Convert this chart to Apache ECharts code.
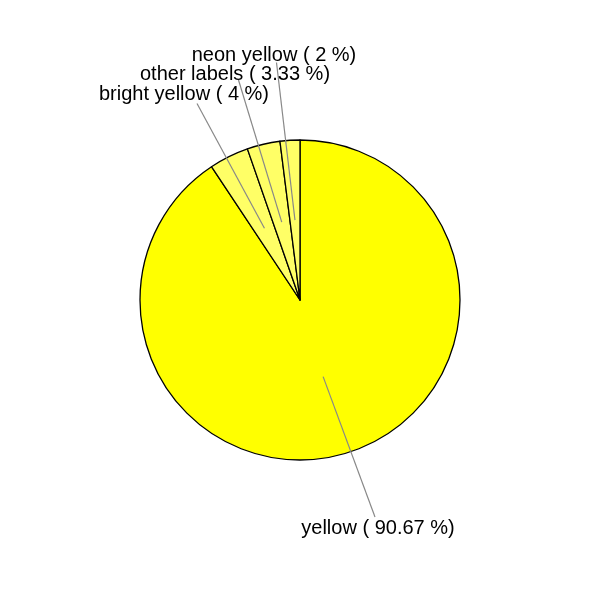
<!DOCTYPE html>
<html>
<head>
<meta charset="utf-8">
<script src="https://cdn.jsdelivr.net/npm/echarts@6/dist/echarts.min.js"></script>
<style>html,body{margin:0;padding:0;background:#fff;}#c{width:600px;height:600px;}</style>
</head>
<body>
<div id="c"></div>
<script>
// Data
var categories = ['yellow', 'bright yellow', 'other labels', 'neon yellow'];
var percents = [90.67, 4, 3.33, 2];
var sliceColors = ['#FFFF00', '#FFFF66', '#FFFF66', '#FFFF66'];

// Layout: label text centres and guide-line end points (pixels)
var labelPos = [[378, 528], [184, 94.5], [235, 74.5], [274, 55]];
var lineEnd = [[375, 517], [197, 103.5], [238.5, 80], [276.5, 62.5]];

var chart = echarts.init(document.getElementById('c'));
var pieData = categories.map(function (n, i) {
  return { name: n, value: percents[i], itemStyle: { color: sliceColors[i] } };
});
var labelData = categories.map(function (n, i) {
  return { name: n, value: percents[i] };
});

chart.setOption({
  animation: false,
  series: [
    {
      type: 'pie',
      z: 1,
      center: ['50%', '50%'],
      radius: 160,
      startAngle: 90,
      clockwise: true,
      silent: true,
      itemStyle: { borderColor: '#000', borderWidth: 1.3 },
      label: { show: false },
      labelLine: { show: false },
      data: pieData
    },
    {
      type: 'pie',
      z: 10,
      center: ['50%', '50%'],
      radius: 80,
      startAngle: 90,
      clockwise: true,
      silent: true,
      avoidLabelOverlap: false,
      itemStyle: { color: 'rgba(0,0,0,0)', borderWidth: 0 },
      label: {
        show: true,
        position: 'outside',
        formatter: function (p) { return p.name + ' ( ' + p.value + ' %)'; },
        fontFamily: 'Liberation Sans',
        fontSize: 20,
        color: '#000'
      },
      labelLine: {
        show: true,
        length: 10,
        length2: 10,
        smooth: false,
        lineStyle: { color: '#888', width: 1.2 }
      },
      labelLayout: function (params) {
        var i = params.dataIndex;
        var start = params.labelLinePoints ? params.labelLinePoints[0] : lineEnd[i];
        return {
          x: labelPos[i][0],
          y: labelPos[i][1],
          align: 'center',
          verticalAlign: 'middle',
          labelLinePoints: [start, lineEnd[i]]
        };
      },
      data: labelData
    }
  ]
});
</script>
</body>
</html>
